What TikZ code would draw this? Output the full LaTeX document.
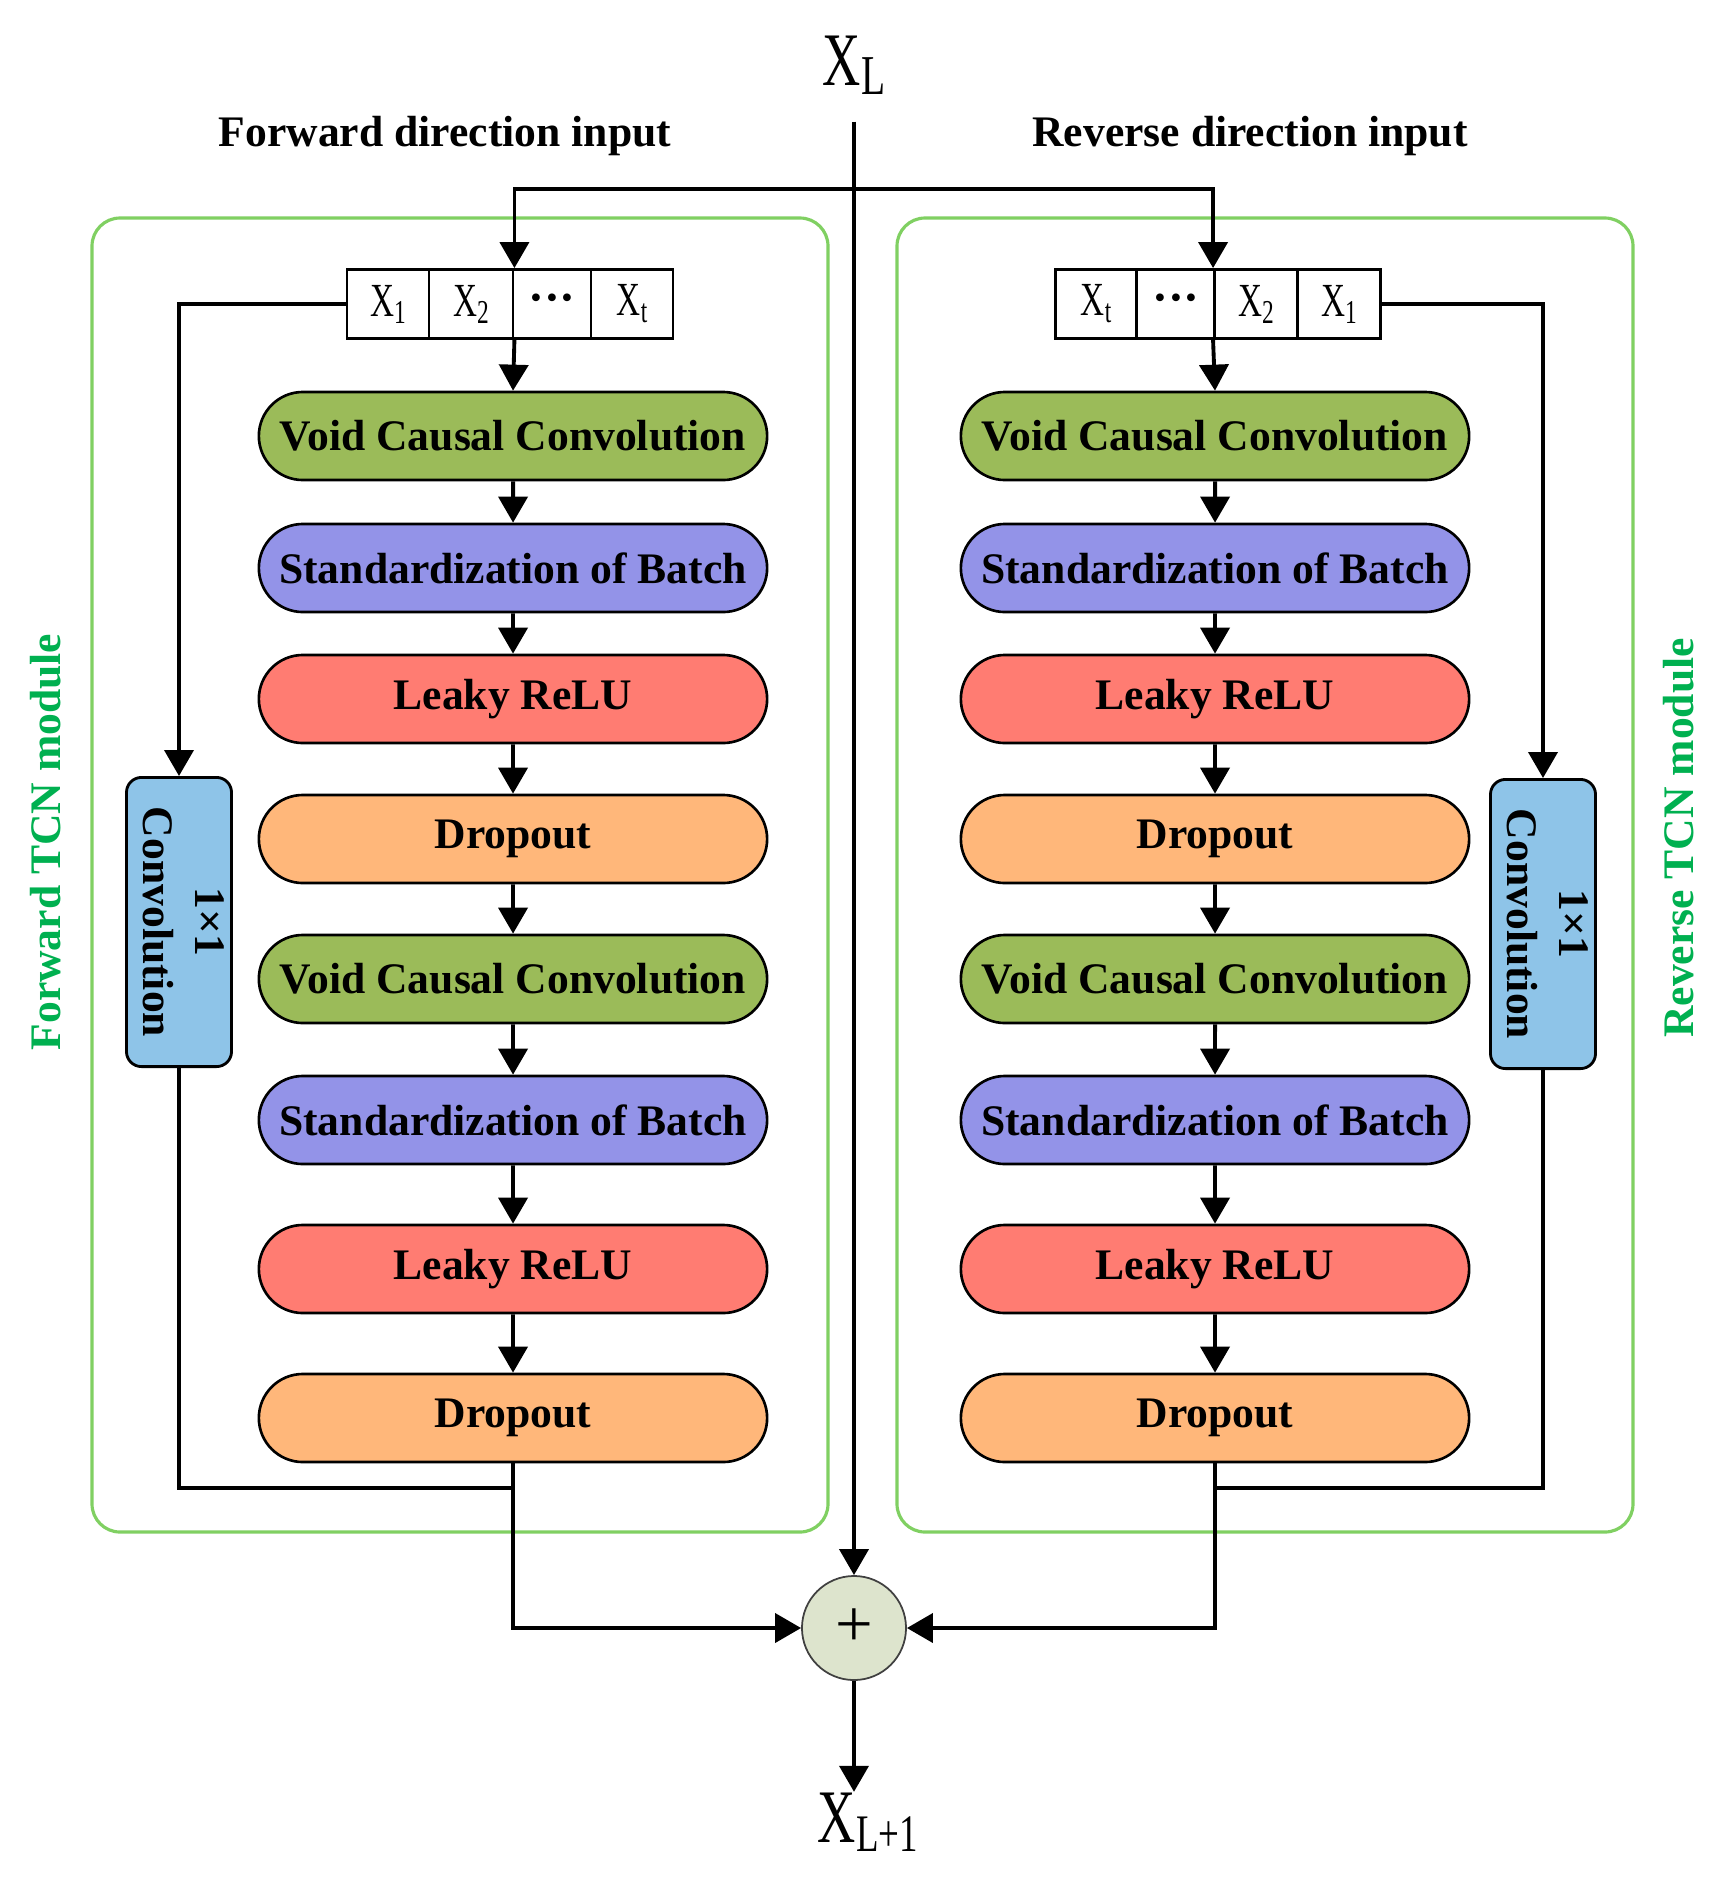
\documentclass[tikz,border=0pt]{standalone}
\usepackage{fontspec}
\setmainfont{Liberation Serif}
\newfontfamily\xfont[FakeStretch=0.7]{Liberation Serif}
\usetikzlibrary{arrows.meta,shapes.misc}
\definecolor{voidgreen}{RGB}{155,187,89}
\definecolor{batchblue}{RGB}{147,147,232}
\definecolor{relured}{RGB}{255,124,114}
\definecolor{droporange}{RGB}{255,183,122}
\definecolor{convblue}{RGB}{142,196,232}
\definecolor{sumfill}{RGB}{221,228,205}
\definecolor{framegreen}{RGB}{128,208,98}
\definecolor{tcngreen}{RGB}{0,176,80}
%% lowered index in the narrow X font
\newcommand{\xsub}[3]{\raisebox{-#2pt}{\fontsize{#1}{#1}\selectfont #3}}

\begin{document}
\begin{tikzpicture}[x=0.01cm, y=-0.01cm,
    pill/.style={rounded rectangle, draw, line width=0.75pt, minimum width=5.08cm,
      minimum height=0.88cm, inner sep=0pt, font=\fontsize{12.4}{14}\selectfont\bfseries},
    vcc/.style={pill, fill=voidgreen},
    bnorm/.style={pill, fill=batchblue},
    relu/.style={pill, fill=relured},
    dropbox/.style={pill, fill=droporange},
    cell/.style={draw, line width=0.8pt, minimum height=0.69cm, inner sep=0pt,
      font=\xfont\fontsize{13.5}{14}\selectfont},
    convbox/.style={draw, line width=0.8pt, fill=convblue, rounded corners=0.15cm,
      minimum width=1.05cm, minimum height=2.89cm},
    convtxt/.style={rotate=-90, align=center, inner sep=0pt,
      font=\fontsize{12.4}{14.8}\selectfont\bfseries},
    sumnode/.style={circle, draw=black!75, line width=0.5pt, fill=sumfill,
      minimum size=1.04cm, inner sep=0pt, font=\fontsize{19}{20}\selectfont},
    xlab/.style={inner sep=0pt, font=\xfont\fontsize{21.5}{22}\selectfont},
    dirlab/.style={inner sep=0pt, font=\fontsize{12.4}{14}\selectfont\bfseries},
    modlab/.style={rotate=90, inner sep=0pt, text=tcngreen,
      font=\fontsize{12.4}{14}\selectfont\bfseries},
    frame/.style={draw=framegreen, line width=0.9pt, rounded corners=0.28cm},
    wire/.style={line width=1.1pt},
    arr/.style={wire, -{Triangle[width=0.29cm,length=0.26cm]}}]
  \useasboundingbox (0,0) rectangle (1722,1887);

  %% input and labels
  \node[xlab, anchor=base] (xl) at (854,85) {X\xsub{16}{2.8}{L}};
  \node[dirlab, anchor=base] (fin) at (445,146) {Forward direction input};
  \node[dirlab, anchor=base] (rin) at (1250,146) {Reverse direction input};

  %% module frames
  \draw[frame] (92,218) rectangle (828,1532);
  \draw[frame] (897,218) rectangle (1633,1532);
  \node[modlab] (fmod) at (46,842) {Forward TCN module};
  \node[modlab] (rmod) at (1679,838) {Reverse TCN module};

  %% forward sequence
  \node[cell, minimum width=0.82cm] (fx1) at (388,304) {X\xsub{9.5}{2}{1}};
  \node[cell, minimum width=0.84cm] (fx2) at (471,304) {X\xsub{9.5}{2}{2}};
  \node[cell, minimum width=0.78cm] (fxd) at (552,304) {\rmfamily\bfseries ···};
  \node[cell, minimum width=0.82cm] (fxt) at (632,304) {X\xsub{9.5}{2}{t}};
  %% reverse sequence
  \node[cell, minimum width=0.81cm] (rxt) at (1096,304) {X\xsub{9.5}{2}{t}};
  \node[cell, minimum width=0.78cm] (rxd) at (1176,304) {\rmfamily\bfseries ···};
  \node[cell, minimum width=0.83cm] (rx2) at (1256,304) {X\xsub{9.5}{2}{2}};
  \node[cell, minimum width=0.83cm] (rx1) at (1339,304) {X\xsub{9.5}{2}{1}};

  %% TCN blocks, both directions
  \foreach \n/\y/\s/\t in {v1/436/vcc/Void Causal Convolution,
      s1/568/bnorm/Standardization of Batch, l1/699/relu/Leaky ReLU,
      d1/839/dropbox/Dropout, v2/979/vcc/Void Causal Convolution,
      s2/1120/bnorm/Standardization of Batch, l2/1269/relu/Leaky ReLU,
      d2/1418/dropbox/Dropout}{
    \node[\s] (f\n) at (513,\y) {\t};
    \node[\s] (r\n) at (1215,\y) {\t};
  }
  \foreach \a/\b in {v1/s1, s1/l1, l1/d1, d1/v2, v2/s2, s2/l2, l2/d2}{
    \draw[arr] (f\a) -- (f\b);
    \draw[arr] (r\a) -- (r\b);
  }

  %% 1x1 convolution
  \node[convbox] (fconv) at (179,922) {};
  \node[convtxt] (fconvtxt) at (184,922) {1×1\\Convolution};
  \node[convbox] (rconv) at (1543,924) {};
  \node[convtxt] (rconvtxt) at (1548,924) {1×1\\Convolution};

  %% sum
  \node[sumnode] (sum) at (854,1628) {+};
  \node[xlab, anchor=base] (xlo) at (868,1842) {X\xsub{15}{2.8}{L+1}};

  %% split of the input
  \coordinate (fsplit) at (513,189);
  \coordinate (rsplit) at (1215,189);
  \draw[arr, shorten <=0.26cm] (sum.north |- xl.south) -- (sum.north);
  \draw[arr] (rsplit) -| (fx2.north east);
  \draw[arr] (fsplit) -| (rx2.north west);
  \draw[arr] (fx2.south east) -- (fv1.north);
  \draw[arr] (rx2.south west) -- (rv1.north);

  %% residual paths
  \coordinate (fjoin) at (513,1488);
  \coordinate (rjoin) at (1215,1488);
  \draw[arr] (fx1.west) -| (fconv.north);
  \draw[arr] (rx1.east) -| (rconv.north);
  \draw[wire] (fconv.south) |- (fjoin);
  \draw[wire] (rconv.south) |- (rjoin);
  \draw[arr] (fd2.south) |- (sum.west);
  \draw[arr] (rd2.south) |- (sum.east);
  \draw[arr] (sum.south) -- (sum.south |- xlo.north);
\end{tikzpicture}
\end{document}
